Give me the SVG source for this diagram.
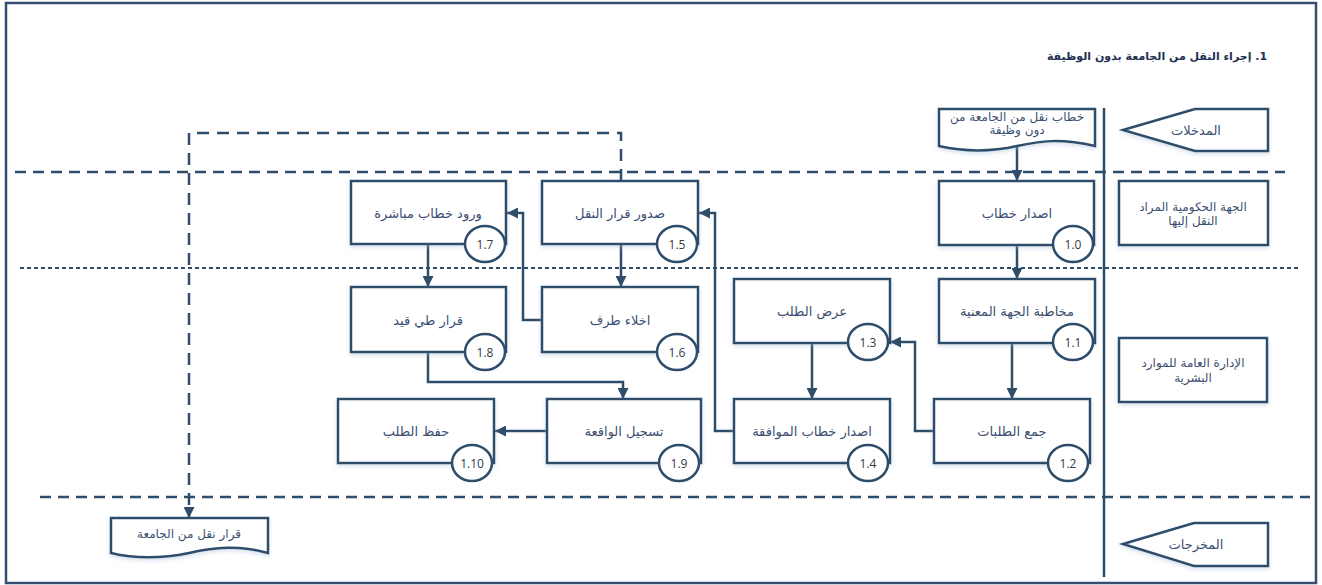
<svg xmlns="http://www.w3.org/2000/svg" width="1322" height="585" viewBox="0 0 1322 585">
  <defs>
    <style>
      .frame { fill: #ffffff; stroke: #34506e; stroke-width: 2.5; }
      .box { fill: #ffffff; stroke: #2e4d6b; stroke-width: 2.5; filter: url(#soft); }
      .num { fill: #ffffff; stroke: #2e4d6b; stroke-width: 2.5; }
      .lane-long { fill: none; stroke: #2e4d6b; stroke-width: 2.5; stroke-dasharray: 11 7; }
      .lane-dot { fill: none; stroke: #2e4d6b; stroke-width: 2; stroke-dasharray: 4 3; }
      .wire { fill: none; stroke: #2e4d6b; stroke-width: 2.5; }
      .wire-dash { fill: none; stroke: #2e4d6b; stroke-width: 2.5; stroke-dasharray: 12 8; }
      .ar { font-family: "DejaVu Sans", "Noto Sans", sans-serif; font-size: 13px; fill: #3b4f72; text-anchor: middle; direction: rtl; unicode-bidi: embed; }
      .ar.sm { font-size: 12px; }
      .title { font-family: "DejaVu Sans", "Noto Sans", sans-serif; font-size: 11px; font-weight: bold; fill: #1f3152; text-anchor: middle; direction: rtl; unicode-bidi: embed; }
      .id { font-family: "Open Sans", "Liberation Sans", sans-serif; font-size: 12px; fill: #333a45; text-anchor: middle; }
    </style>
    <filter id="soft" x="-10%" y="-10%" width="120%" height="130%">
      <feDropShadow dx="0" dy="2" stdDeviation="2" flood-color="#9fb8d6" flood-opacity="0.45"/>
    </filter>
    <marker id="tip" viewBox="0 0 10 10" refX="10" refY="5" markerWidth="11" markerHeight="11" markerUnits="userSpaceOnUse" orient="auto">
      <path d="M0,0 L10,5 L0,10 Z" fill="#2e4d6b"/>
    </marker>
  </defs>

  <!-- page frame -->
  <rect class="frame" x="6" y="3" width="1310" height="580"/>

  <!-- title -->
  <text class="title" x="1157" y="60">1. إجراء النقل من الجامعة بدون الوظيفة</text>

  <!-- swimlane separators -->
  <g id="lanes">
    <line class="lane-long" x1="15" y1="172" x2="1285" y2="172"/>
    <line class="lane-dot" x1="20" y1="268" x2="1298" y2="268"/>
    <line class="lane-long" x1="40" y1="497" x2="1310" y2="497"/>
    <line class="wire" x1="1104" y1="108" x2="1104" y2="577"/>
  </g>

  <!-- connectors -->
  <g id="connectors">
    <path class="wire" d="M1017,147 V181" marker-end="url(#tip)"/>
    <path class="wire" d="M1017,245 V279" marker-end="url(#tip)"/>
    <path class="wire" d="M1012,343 V399" marker-end="url(#tip)"/>
    <path class="wire" d="M934,431 H915 V342 H890" marker-end="url(#tip)"/>
    <path class="wire" d="M812,343 V399" marker-end="url(#tip)"/>
    <path class="wire" d="M734,431 H715 V213 H699" marker-end="url(#tip)"/>
    <path class="wire" d="M621,244 V287" marker-end="url(#tip)"/>
    <path class="wire" d="M542,320 H523 V213 H507" marker-end="url(#tip)"/>
    <path class="wire" d="M428,244 V287" marker-end="url(#tip)"/>
    <path class="wire" d="M428,352 V382 H623 V399" marker-end="url(#tip)"/>
    <path class="wire" d="M547,431 H495" marker-end="url(#tip)"/>
    <path class="wire-dash" d="M621,181 V133 H189 V518" marker-end="url(#tip)"/>
  </g>

  <!-- lane headers -->
  <g id="inputs">
    <polygon class="box" points="1123,130 1195,109 1268,109 1268,151 1195,151"/>
    <text class="ar" x="1196" y="135">المدخلات</text>
  </g>
  <g id="lane-gov">
    <rect class="box" x="1119" y="181" width="149" height="64"/>
    <text class="ar sm" x="1193" y="211">الجهة الحكومية المراد</text>
    <text class="ar sm" x="1193" y="225">النقل إليها</text>
  </g>
  <g id="lane-hr">
    <rect class="box" x="1119" y="338" width="148" height="64"/>
    <text class="ar sm" x="1193" y="367">الإدارة العامة للموارد</text>
    <text class="ar sm" x="1193" y="382">البشرية</text>
  </g>
  <g id="outputs">
    <polygon class="box" points="1123,544 1194,523 1268,523 1268,566 1194,566"/>
    <text class="ar" x="1196" y="549">المخرجات</text>
  </g>

  <!-- documents -->
  <g id="doc-in">
    <path class="box" d="M939,109 H1095 V146 C1060,138 1040,141 1017,146 C995,151 970,153 939,146 Z"/>
    <text class="ar sm" x="1017" y="121">خطاب نقل من الجامعة من</text>
    <text class="ar sm" x="1017" y="134">دون وظيفة</text>
  </g>
  <g id="doc-out">
    <path class="box" d="M111,518 H268 V553 C240,545 215,547 189,553 C165,558 140,560 111,553 Z"/>
    <text class="ar sm" x="189" y="538">قرار نقل من الجامعة</text>
  </g>

  <!-- process steps -->
  <g id="p1-0">
    <rect class="box" x="939" y="181" width="155" height="64"/>
    <text class="ar" x="1017" y="218">اصدار خطاب</text>
    <ellipse class="num" cx="1073" cy="244" rx="20" ry="18"/>
    <text class="id" x="1073" y="249">1.0</text>
  </g>
  <g id="p1-1">
    <rect class="box" x="939" y="279" width="156" height="64"/>
    <text class="ar" x="1017" y="316">مخاطبة الجهة المعنية</text>
    <ellipse class="num" cx="1073" cy="342" rx="20" ry="18"/>
    <text class="id" x="1073" y="347">1.1</text>
  </g>
  <g id="p1-2">
    <rect class="box" x="934" y="399" width="156" height="64"/>
    <text class="ar" x="1012" y="436">جمع الطلبات</text>
    <ellipse class="num" cx="1068" cy="463" rx="20" ry="18"/>
    <text class="id" x="1068" y="468">1.2</text>
  </g>
  <g id="p1-3">
    <rect class="box" x="734" y="279" width="156" height="64"/>
    <text class="ar" x="812" y="316">عرض الطلب</text>
    <ellipse class="num" cx="868" cy="342" rx="20" ry="18"/>
    <text class="id" x="868" y="347">1.3</text>
  </g>
  <g id="p1-4">
    <rect class="box" x="734" y="399" width="156" height="64"/>
    <text class="ar" x="812" y="436">اصدار خطاب الموافقة</text>
    <ellipse class="num" cx="868" cy="463" rx="20" ry="18"/>
    <text class="id" x="868" y="468">1.4</text>
  </g>
  <g id="p1-5">
    <rect class="box" x="542" y="181" width="156" height="63"/>
    <text class="ar" x="620" y="218">صدور قرار النقل</text>
    <ellipse class="num" cx="677" cy="244" rx="20" ry="18"/>
    <text class="id" x="677" y="249">1.5</text>
  </g>
  <g id="p1-6">
    <rect class="box" x="542" y="287" width="156" height="65"/>
    <text class="ar" x="620" y="325">اخلاء طرف</text>
    <ellipse class="num" cx="677" cy="352" rx="20" ry="18"/>
    <text class="id" x="677" y="357">1.6</text>
  </g>
  <g id="p1-7">
    <rect class="box" x="351" y="181" width="155" height="63"/>
    <text class="ar" x="428" y="218">ورود خطاب مباشرة</text>
    <ellipse class="num" cx="485" cy="244" rx="20" ry="18"/>
    <text class="id" x="485" y="249">1.7</text>
  </g>
  <g id="p1-8">
    <rect class="box" x="351" y="287" width="155" height="65"/>
    <text class="ar" x="428" y="325">قرار طي قيد</text>
    <ellipse class="num" cx="485" cy="352" rx="20" ry="18"/>
    <text class="id" x="485" y="357">1.8</text>
  </g>
  <g id="p1-9">
    <rect class="box" x="547" y="399" width="154" height="64"/>
    <text class="ar" x="624" y="436">تسجيل الواقعة</text>
    <ellipse class="num" cx="679" cy="463" rx="20" ry="18"/>
    <text class="id" x="679" y="468">1.9</text>
  </g>
  <g id="p1-10">
    <rect class="box" x="338" y="399" width="156" height="64"/>
    <text class="ar" x="416" y="436">حفظ الطلب</text>
    <ellipse class="num" cx="472" cy="463" rx="20" ry="18"/>
    <text class="id" x="472" y="468">1.10</text>
  </g>
</svg>
